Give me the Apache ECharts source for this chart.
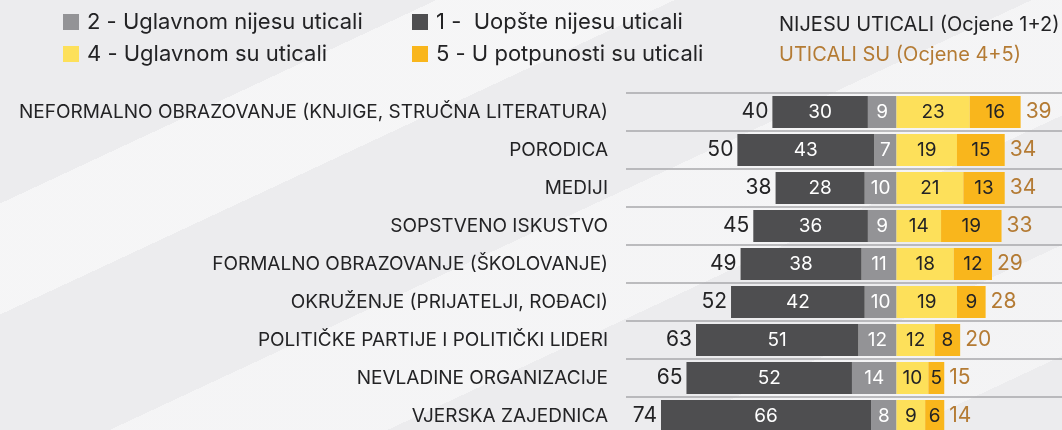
<!DOCTYPE html>
<html>
<head>
<meta charset="utf-8">
<script src="https://cdn.jsdelivr.net/npm/echarts@6/dist/echarts.min.js"></script>
<style>
  html, body { margin: 0; padding: 0; }
  body {
    width: 1062px; height: 430px; overflow: hidden;
    background:
      linear-gradient(155deg, transparent 0 22%, rgba(255,255,255,0.5) 22% 34%, transparent 34% 100%),
      linear-gradient(155deg, transparent 0 52%, rgba(255,255,255,0.45) 52% 66%, transparent 66% 100%),
      linear-gradient(155deg, transparent 0 80%, rgba(255,255,255,0.4) 80% 92%, transparent 92% 100%),
      #ececee;
  }
  #chart { width: 1062px; height: 430px; }
</style>
</head>
<body>
<div id="chart"></div>
<script>
(function () {
  'use strict';

  var categories = [
    'NEFORMALNO OBRAZOVANJE (KNJIGE, STRUČNA LITERATURA)',
    'PORODICA',
    'MEDIJI',
    'SOPSTVENO ISKUSTVO',
    'FORMALNO OBRAZOVANJE (ŠKOLOVANJE)',
    'OKRUŽENJE (PRIJATELJI, ROĐACI)',
    'POLITIČKE PARTIJE I POLITIČKI LIDERI',
    'NEVLADINE ORGANIZACIJE',
    'VJERSKA ZAJEDNICA'
  ];
  var ocjena1 = [30, 43, 28, 36, 38, 42, 51, 52, 66];
  var ocjena2 = [9, 7, 10, 9, 11, 10, 12, 14, 8];
  var ocjena4 = [23, 19, 21, 14, 18, 19, 12, 10, 9];
  var ocjena5 = [16, 15, 13, 19, 12, 9, 8, 5, 6];
  var nijesuTotal = [40, 50, 38, 45, 49, 52, 63, 65, 74];
  var uticaliTotal = [39, 34, 34, 33, 29, 28, 20, 15, 14];

  var names = {
    o1: '1 -  Uopšte nijesu uticali',
    o2: '2 - Uglavnom nijesu uticali',
    o4: '4 - Uglavnom su uticali',
    o5: '5 - U potpunosti su uticali'
  };

  var FONT = 'Inter, "Noto Sans", sans-serif';
  var DARK = '#4e4e50', GRAY = '#939396', YELLOW = '#fde05a', ORANGE = '#f9b61c', BROWN = '#b47b34';
  var TEXT = '#232325';

  var chart = echarts.init(document.getElementById('chart'));

  function absLabel(color) {
    return {
      show: true,
      position: 'inside',
      color: color,
      fontSize: 19,
      fontFamily: FONT,
      formatter: function (p) { return Math.abs(p.value); }
    };
  }

  // bar ends, so the total labels sit right next to the stacks
  var negEnds = ocjena1.map(function (v, i) { return -(v + ocjena2[i]); });
  var posEnds = ocjena4.map(function (v, i) { return v + ocjena5[i]; });

  var legendBase = {
    orient: 'vertical',
    top: 11,
    padding: 0,
    itemWidth: 16,
    itemHeight: 16,
    itemGap: 10,
    icon: 'rect',
    textStyle: { fontSize: 22, color: TEXT, fontFamily: FONT, padding: [0, 0, 0, 3] }
  };

  var option = {
    backgroundColor: 'transparent',
    animation: false,
    textStyle: { fontFamily: FONT },
    title: {
      text: 'NIJESU UTICALI (Ocjene 1+2)',
      subtext: 'UTICALI SU (Ocjene 4+5)',
      left: 779,
      top: 15,
      padding: 0,
      itemGap: 10,
      textStyle: { fontSize: 20, fontWeight: 'normal', color: TEXT, fontFamily: FONT },
      subtextStyle: { fontSize: 20, color: BROWN, fontFamily: FONT }
    },
    legend: [
      Object.assign({}, legendBase, { left: 63, data: [names.o2, names.o4] }),
      Object.assign({}, legendBase, { left: 412, data: [names.o1, names.o5] })
    ],
    grid: {
      left: 626,
      right: 0,
      top: 93,
      height: 342,
      containLabel: false,
      outerBoundsMode: 'none'
    },
    xAxis: {
      type: 'value',
      min: -85,
      max: 52,
      show: false
    },
    yAxis: {
      type: 'category',
      data: categories,
      inverse: true,
      axisLine: { show: false },
      axisTick: { show: false },
      axisLabel: { color: TEXT, fontSize: 19, fontFamily: FONT, margin: 18 },
      splitLine: { show: true, lineStyle: { color: '#a9a9ab', width: 1.5 } }
    },
    series: [
      {
        name: names.o2, type: 'bar', stack: 'total', barWidth: 32,
        itemStyle: { color: GRAY },
        label: absLabel('#ffffff'),
        data: ocjena2.map(function (v) { return -v; })
      },
      {
        name: names.o1, type: 'bar', stack: 'total', barWidth: 32,
        itemStyle: { color: DARK },
        label: absLabel('#ffffff'),
        data: ocjena1.map(function (v) { return -v; })
      },
      {
        name: names.o4, type: 'bar', stack: 'total', barWidth: 32,
        itemStyle: { color: YELLOW },
        label: absLabel(TEXT),
        data: ocjena4
      },
      {
        name: names.o5, type: 'bar', stack: 'total', barWidth: 32,
        itemStyle: { color: ORANGE },
        label: absLabel(TEXT),
        data: ocjena5
      },
      {
        name: 'nijesuTotal', type: 'scatter', symbolSize: 0,
        itemStyle: { color: 'transparent', opacity: 1 },
        label: {
          show: true, position: 'left', distance: 4,
          color: TEXT, fontSize: 21, fontFamily: FONT,
          formatter: function (p) { return nijesuTotal[p.dataIndex]; }
        },
        data: negEnds.map(function (v, i) { return [v, categories[i]]; })
      },
      {
        name: 'uticaliTotal', type: 'scatter', symbolSize: 0,
        itemStyle: { color: 'transparent', opacity: 1 },
        label: {
          show: true, position: 'right', distance: 5,
          color: BROWN, fontSize: 21, fontFamily: FONT,
          formatter: function (p) { return uticaliTotal[p.dataIndex]; }
        },
        data: posEnds.map(function (v, i) { return [v, categories[i]]; })
      }
    ]
  };

  chart.setOption(option);
})();
</script>
</body>
</html>
